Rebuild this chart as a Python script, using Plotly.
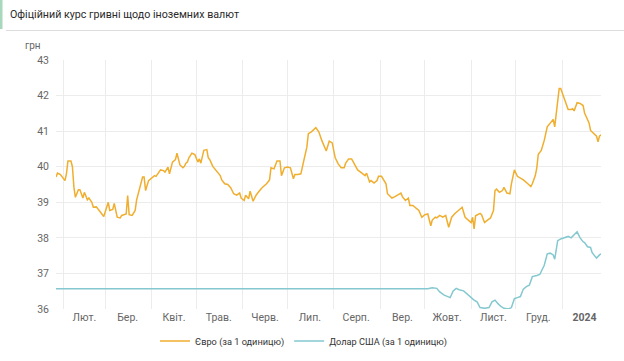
import plotly.graph_objects as go
from datetime import date, timedelta

title_text = "Офіційний курс гривні щодо іноземних валют"
unit_label = "грн"
eur_name = "Євро (за 1 одиницю)"
usd_name = "Долар США (за 1 одиницю)"

eur_dates = [
    "2023-01-27", "2023-01-28", "2023-01-30", "2023-01-31", "2023-02-02", "2023-02-03", "2023-02-04",
    "2023-02-06", "2023-02-07", "2023-02-08", "2023-02-09", "2023-02-11", "2023-02-12", "2023-02-14",
    "2023-02-15", "2023-02-17", "2023-02-18", "2023-02-20", "2023-02-21", "2023-02-23", "2023-02-25",
    "2023-02-27", "2023-02-28", "2023-03-03", "2023-03-04", "2023-03-06", "2023-03-07", "2023-03-09",
    "2023-03-11", "2023-03-12", "2023-03-15", "2023-03-16", "2023-03-17", "2023-03-19", "2023-03-21",
    "2023-03-22", "2023-03-24", "2023-03-26", "2023-03-27", "2023-03-28", "2023-03-30", "2023-04-01",
    "2023-04-03", "2023-04-04", "2023-04-07", "2023-04-09", "2023-04-10", "2023-04-12", "2023-04-13",
    "2023-04-15", "2023-04-17", "2023-04-18", "2023-04-20", "2023-04-22", "2023-04-23", "2023-04-24",
    "2023-04-25", "2023-04-26", "2023-04-28", "2023-04-30", "2023-05-02", "2023-05-03", "2023-05-04",
    "2023-05-06", "2023-05-08", "2023-05-09", "2023-05-10", "2023-05-12", "2023-05-14", "2023-05-17",
    "2023-05-18", "2023-05-20", "2023-05-22", "2023-05-24", "2023-05-26", "2023-05-28", "2023-05-30",
    "2023-05-31", "2023-06-02", "2023-06-03", "2023-06-05", "2023-06-06", "2023-06-08", "2023-06-10",
    "2023-06-12", "2023-06-14", "2023-06-17", "2023-06-19", "2023-06-20", "2023-06-22", "2023-06-24",
    "2023-06-26", "2023-06-27", "2023-06-29", "2023-07-01", "2023-07-03", "2023-07-05", "2023-07-06",
    "2023-07-08", "2023-07-10", "2023-07-12", "2023-07-14", "2023-07-15", "2023-07-17", "2023-07-20",
    "2023-07-21", "2023-07-22", "2023-07-24", "2023-07-27", "2023-07-29", "2023-07-31", "2023-08-02",
    "2023-08-04", "2023-08-06", "2023-08-08", "2023-08-09", "2023-08-11", "2023-08-13", "2023-08-15",
    "2023-08-17", "2023-08-19", "2023-08-22", "2023-08-23", "2023-08-25", "2023-08-26", "2023-08-28",
    "2023-08-30", "2023-08-31", "2023-09-02", "2023-09-05", "2023-09-06", "2023-09-09", "2023-09-11",
    "2023-09-13", "2023-09-15", "2023-09-16", "2023-09-18", "2023-09-20", "2023-09-21", "2023-09-23",
    "2023-09-25", "2023-09-27", "2023-09-29", "2023-10-01", "2023-10-03", "2023-10-05", "2023-10-06",
    "2023-10-08", "2023-10-09", "2023-10-11", "2023-10-13", "2023-10-15", "2023-10-17", "2023-10-19",
    "2023-10-21", "2023-10-23", "2023-10-26", "2023-10-28", "2023-10-30", "2023-11-01", "2023-11-02",
    "2023-11-03", "2023-11-04", "2023-11-07", "2023-11-08", "2023-11-10", "2023-11-12", "2023-11-14",
    "2023-11-16", "2023-11-17", "2023-11-18", "2023-11-20", "2023-11-22", "2023-11-23", "2023-11-25",
    "2023-11-27", "2023-11-28", "2023-11-30", "2023-12-02", "2023-12-04", "2023-12-06", "2023-12-09",
    "2023-12-11", "2023-12-12", "2023-12-14", "2023-12-15", "2023-12-16", "2023-12-18", "2023-12-20",
    "2023-12-22", "2023-12-24", "2023-12-25", "2023-12-26", "2023-12-27", "2023-12-29", "2023-12-30",
    "2023-12-31", "2024-01-02", "2024-01-03", "2024-01-05", "2024-01-07", "2024-01-08", "2024-01-09",
    "2024-01-11", "2024-01-13", "2024-01-15", "2024-01-16", "2024-01-17", "2024-01-19", "2024-01-20",
    "2024-01-22", "2024-01-24", "2024-01-25", "2024-01-26", "2024-01-27",
]
eur_values = [
    39.71, 39.82, 39.78, 39.71, 39.61, 39.80, 40.16,
    40.16, 40.00, 39.42, 39.14, 39.35, 39.35, 39.12,
    39.28, 39.07, 39.12, 39.00, 38.86, 38.87, 38.77,
    38.67, 38.60, 39.00, 38.77, 38.80, 38.97, 38.58,
    38.56, 38.63, 38.67, 39.19, 38.65, 38.63, 38.77,
    39.07, 39.42, 39.71, 39.71, 39.33, 39.61, 39.69,
    39.75, 39.73, 39.91, 39.89, 39.85, 39.99, 39.80,
    40.13, 40.20, 40.38, 40.05, 39.97, 40.01, 40.10,
    40.13, 40.25, 40.38, 40.34, 40.13, 40.22, 40.10,
    40.46, 40.48, 40.25, 40.20, 40.01, 39.91, 39.75,
    39.63, 39.52, 39.50, 39.41, 39.24, 39.20, 39.26,
    39.12, 39.05, 39.20, 39.10, 39.31, 39.03, 39.20,
    39.31, 39.41, 39.52, 39.63, 39.97, 39.94, 40.16,
    40.16, 39.75, 39.97, 39.99, 39.97, 39.66, 39.78,
    39.78, 39.80, 40.18, 40.55, 40.93, 40.98, 41.10,
    41.02, 40.98, 40.74, 40.44, 40.72, 40.67, 40.25,
    40.08, 39.97, 39.97, 40.10, 40.22, 40.22, 40.07,
    39.91, 39.85, 39.75, 39.82, 39.57, 39.61, 39.54,
    39.61, 39.73, 39.73, 39.52, 39.24, 39.12, 39.16,
    39.20, 39.26, 39.16, 39.05, 39.12, 38.91, 38.91,
    38.84, 38.77, 38.58, 38.65, 38.67, 38.34, 38.50,
    38.58, 38.56, 38.63, 38.58, 38.63, 38.30, 38.58,
    38.68, 38.75, 38.86, 38.58, 38.50, 38.43, 38.58,
    38.25, 38.62, 38.69, 38.65, 38.43, 38.50, 38.56,
    38.77, 39.33, 39.37, 39.28, 39.33, 39.42, 39.26,
    39.24, 39.52, 39.91, 39.73, 39.69, 39.63, 39.52,
    39.44, 39.52, 39.75, 39.97, 40.35, 40.46, 40.74,
    41.12, 41.23, 41.26, 41.33, 41.12, 41.78, 42.20,
    42.20, 41.98, 41.85, 41.61, 41.61, 41.63, 41.57,
    41.80, 41.78, 41.72, 41.51, 41.40, 41.23, 41.02,
    40.95, 40.86, 40.70, 40.86, 40.90,
]

usd_dates = [
    "2023-01-27", "2023-10-03", "2023-10-06", "2023-10-09", "2023-10-11", "2023-10-14", "2023-10-18",
    "2023-10-20", "2023-10-22", "2023-10-24", "2023-10-27", "2023-10-29", "2023-11-01", "2023-11-03",
    "2023-11-05", "2023-11-07", "2023-11-10", "2023-11-13", "2023-11-15", "2023-11-17", "2023-11-19",
    "2023-11-21", "2023-11-23", "2023-11-26", "2023-11-28", "2023-11-30", "2023-12-02", "2023-12-04",
    "2023-12-06", "2023-12-08", "2023-12-10", "2023-12-12", "2023-12-15", "2023-12-17", "2023-12-20",
    "2023-12-22", "2023-12-24", "2023-12-26", "2023-12-27", "2023-12-29", "2023-12-31", "2024-01-03",
    "2024-01-05", "2024-01-07", "2024-01-09", "2024-01-11", "2024-01-13", "2024-01-15", "2024-01-16",
    "2024-01-18", "2024-01-20", "2024-01-21", "2024-01-23", "2024-01-24", "2024-01-26", "2024-01-27",
]
usd_values = [
    36.57, 36.57, 36.60, 36.58, 36.48, 36.39, 36.32,
    36.51, 36.58, 36.54, 36.51, 36.43, 36.32, 36.25,
    36.20, 36.04, 36.02, 36.04, 36.20, 36.25, 36.15,
    36.07, 36.02, 36.00, 36.04, 36.29, 36.32, 36.35,
    36.56, 36.63, 36.67, 36.91, 36.94, 36.97, 37.23,
    37.55, 37.57, 37.52, 37.40, 37.92, 37.97, 38.00,
    38.04, 38.00, 38.08, 38.17, 38.00, 37.89, 37.87,
    37.75, 37.73, 37.59, 37.48, 37.43, 37.52, 37.55,
]

month_starts = [
    "2023-02-01", "2023-03-01", "2023-04-01", "2023-05-01", "2023-06-01", "2023-07-01",
    "2023-08-01", "2023-09-01", "2023-10-01", "2023-11-01", "2023-12-01", "2024-01-01",
]
month_labels = [
    "Лют.", "Бер.", "Квіт.", "Трав.", "Черв.", "Лип.",
    "Серп.", "Вер.", "Жовт.", "Лист.", "Груд.", "<b>2024</b>",
]
y_range = [36, 43]

# label positions: middle of each month
def to_date(s):
    return date.fromisoformat(s)

def next_month(d):
    return date(d.year + (d.month // 12), d.month % 12 + 1, 1)

label_pos = []
for s in month_starts:
    d0 = to_date(s)
    d1 = next_month(d0)
    mid = d0 + timedelta(days=(d1 - d0).days / 2)
    label_pos.append(mid.isoformat())

W, H = 624, 361
ML, MR, MT, MB = 56, 23, 60, 52
PW, PH = W - ML - MR, H - MT - MB

def px_x(px):
    return (px - ML) / PW

def px_y(py):
    return (H - MB - py) / PH

FONT = "Roboto, 'Open Sans', Arial, sans-serif"

fig = go.Figure()
fig.add_trace(go.Scatter(
    x=eur_dates, y=eur_values, mode="lines", name=eur_name,
    line=dict(color="#f0ae2e", width=1.5),
))
fig.add_trace(go.Scatter(
    x=usd_dates, y=usd_values, mode="lines", name=usd_name,
    line=dict(color="#84c8d0", width=1.5),
))

fig.update_layout(
    width=W, height=H,
    margin=dict(l=ML, r=MR, t=MT, b=MB, pad=0, autoexpand=False),
    paper_bgcolor="white", plot_bgcolor="white",
    font=dict(family=FONT, size=11, color="#666666"),
    title=dict(
        text=title_text, x=10 / W, xanchor="left", xref="container",
        y=1 - 14 / H, yanchor="middle", yref="container",
        font=dict(family=FONT, size=10.7, color="#2a2a2a"),
    ),
    showlegend=True,
    legend=dict(
        orientation="h", xref="container", yref="container",
        x=304 / W, xanchor="center", y=1 - 341 / H, yanchor="middle",
        font=dict(family=FONT, size=9.2, color="#333333"),
        itemwidth=30, bgcolor="rgba(0,0,0,0)",
    ),
    xaxis=dict(
        type="date",
        range=[eur_dates[0], eur_dates[-1]],
        tickmode="array", tickvals=label_pos, ticktext=month_labels,
        showgrid=False, ticks="", showline=False, zeroline=False,
        tickfont=dict(family=FONT, size=10.5, color="#666666"),
        minor=dict(tickmode="array", tickvals=month_starts, showgrid=True,
                   gridcolor="#ececec", gridwidth=1, ticks=""),
        fixedrange=True,
    ),
    yaxis=dict(
        range=y_range, dtick=1, tick0=36,
        showgrid=True, gridcolor="#ececec", gridwidth=1,
        zeroline=False, showline=False, ticks="",
        ticklabelstandoff=6,
        tickfont=dict(family=FONT, size=10.5, color="#666666"),
        fixedrange=True,
    ),
    hovermode=False,
)

# header decorations: accent bar and separator line
fig.add_shape(type="rect", xref="paper", yref="paper",
              x0=px_x(0), x1=px_x(2.5), y0=px_y(29), y1=px_y(0),
              fillcolor="#a8d8bc", line=dict(width=0), layer="above")
fig.add_shape(type="line", xref="paper", yref="paper",
              x0=px_x(6), x1=px_x(W), y0=px_y(30.5), y1=px_y(30.5),
              line=dict(color="#dddddd", width=1))

fig.add_annotation(text=unit_label, xref="paper", yref="paper",
                   x=px_x(23), y=px_y(46), xanchor="left", yanchor="middle",
                   showarrow=False, font=dict(family=FONT, size=10, color="#666666"))

fig.write_html("out.html", config={"displayModeBar": False},
               post_script="document.body.style.margin='0px';")
